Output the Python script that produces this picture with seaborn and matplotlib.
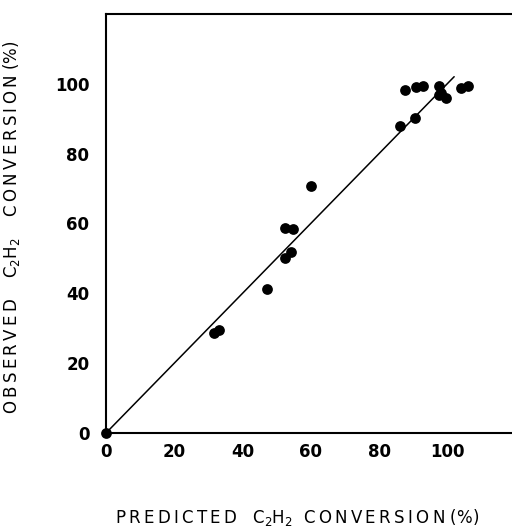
import matplotlib
matplotlib.use('Agg')
import matplotlib.pyplot as plt
import seaborn as sns
import pandas as pd

# Data
predicted = [0, 31.5, 33.2, 47.3, 52.3, 54.8, 54.3, 52.4, 60.2,
             86.0, 90.4, 87.7, 90.7, 92.8, 97.7, 98.2, 99.7, 97.7, 103.9, 106.1]
observed = [0, 28.6, 29.5, 41.2, 58.8, 58.3, 51.8, 50.0, 70.7,
            87.8, 90.2, 98.1, 99.0, 99.4, 99.4, 97.3, 95.9, 96.8, 98.7, 99.2]
parity_x = [0, 102]
ticks = [0, 20, 40, 60, 80, 100]

df = pd.DataFrame({'predicted': predicted, 'observed': observed})
line = pd.DataFrame({'x': parity_x, 'y': parity_x})

sns.set_style('white')
plt.rcParams['font.family'] = ['DejaVu Sans']


def spaced(s):
    # add a little letter spacing, like the typeset original
    return '\u2009'.join(s)


fig = plt.figure(figsize=(5.12, 5.32), dpi=100)
ax = fig.add_axes([0.207, 0.186, 0.80, 0.788])

sns.lineplot(data=line, x='x', y='y', color='black', linewidth=1.1, ax=ax)
sns.scatterplot(data=df, x='predicted', y='observed', color='black',
                s=60, edgecolor='black', linewidth=0, ax=ax, clip_on=False, zorder=5)

ax.set_xlim(0, 120)
ax.set_ylim(0, 120)
ax.set_xticks(ticks)
ax.set_yticks(ticks)
ax.set_xticklabels([str(t) for t in ticks], fontsize=12, fontweight='bold', color='black')
ax.set_yticklabels([str(t) for t in ticks], fontsize=12, fontweight='bold', color='black')
ax.tick_params(direction='in', length=5, width=1.2, color='black')
ax.tick_params(axis='x', pad=7)
ax.tick_params(axis='y', pad=12)

for s in ['left', 'bottom', 'top']:
    ax.spines[s].set_color('black')
    ax.spines[s].set_linewidth(1.5)
ax.spines['right'].set_visible(False)

xlab = spaced('PREDICTED') + '   C$_2$H$_2$  ' + spaced('CONVERSION') + ' (%)'
ylab = spaced('OBSERVED') + '    C$_2$H$_2$    ' + spaced('CONVERSION') + ' (%)'
ax.set_xlabel(xlab, fontsize=12, color='black')
ax.set_ylabel(ylab, fontsize=12, color='black')
ax.xaxis.set_label_coords(0.466, -0.176)
ax.yaxis.set_label_coords(-0.205, 0.49)

plt.savefig('out.png', dpi=100)
